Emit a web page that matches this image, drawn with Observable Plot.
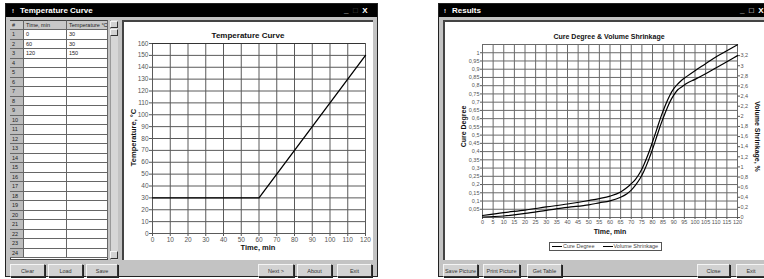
<!DOCTYPE html>
<html><head><meta charset="utf-8">
<script src="https://cdn.jsdelivr.net/npm/d3@7"></script>
<script src="https://cdn.jsdelivr.net/npm/@observablehq/plot@0.6"></script>
<style>
body{margin:0;width:764px;height:279px;background:#fff;position:relative;overflow:hidden;font-family:"Liberation Sans",Arial,sans-serif;}
.a{position:absolute;box-sizing:border-box;}
.win{background:#c3c3c3;border:1px solid #222;}
.tb{background:#000;color:#fff;font-weight:bold;font-size:8px;line-height:13px;white-space:nowrap;}
.btn{background:#d2d2d2;border:1px solid #333;border-top-color:#f4f4f4;border-left-color:#f4f4f4;box-shadow:1px 1px 0 #222;font-size:5.5px;line-height:12px;text-align:center;color:#333;}
.panel{background:#fff;border-left:2px solid #444;border-top:2px solid #444;}
.cell{font-size:5.5px;line-height:9px;padding-left:2px;color:#222;border-right:1px solid #666;border-bottom:1px solid #666;overflow:hidden;white-space:nowrap;}
.ttl{font-weight:bold;color:#111;white-space:nowrap;text-align:center;}
.rot{transform-origin:center center;}
</style></head>
<body>
<div id="root"></div>
<script>
// ---------- data ----------
const tempTime = [0, 60, 120];
const tempValue = [30, 30, 150];
const tempXTicks = [0, 10, 20, 30, 40, 50, 60, 70, 80, 90, 100, 110, 120];
const tempYTicks = [0, 10, 20, 30, 40, 50, 60, 70, 80, 90, 100, 110, 120, 130, 140, 150, 160];

const cureTime   = [0, 10, 20, 30, 40, 50, 55, 60, 65, 68, 70, 72, 74, 76, 78, 80, 82, 84, 86, 88, 90, 92, 94, 96, 100, 105, 110, 115, 120];
const cureDegree = [0.012, 0.030, 0.045, 0.064, 0.082, 0.103, 0.115, 0.130, 0.155, 0.182, 0.205, 0.232, 0.270, 0.322, 0.385, 0.458, 0.535, 0.612, 0.680, 0.738, 0.782, 0.812, 0.836, 0.855, 0.891, 0.933, 0.976, 1.012, 1.048];
const shrinkage  = [0.01, 0.03, 0.08, 0.14, 0.20, 0.25, 0.29, 0.33, 0.40, 0.47, 0.54, 0.64, 0.76, 0.92, 1.12, 1.35, 1.60, 1.85, 2.07, 2.27, 2.42, 2.53, 2.59, 2.65, 2.73, 2.84, 2.96, 3.08, 3.20];
const resXTicks = [0, 5, 10, 15, 20, 25, 30, 35, 40, 45, 50, 55, 60, 65, 70, 75, 80, 85, 90, 95, 100, 105, 110, 115, 120];
const cureTicks = [0.05, 0.1, 0.15, 0.2, 0.25, 0.3, 0.35, 0.4, 0.45, 0.5, 0.55, 0.6, 0.65, 0.7, 0.75, 0.8, 0.85, 0.9, 0.95, 1];
const cureGrid = [0, 0.05, 0.1, 0.15, 0.2, 0.25, 0.3, 0.35, 0.4, 0.45, 0.5, 0.55, 0.6, 0.65, 0.7, 0.75, 0.8, 0.85, 0.9, 0.95, 1, 1.05];
const shrinkTicks = [0, 0.2, 0.4, 0.6, 0.8, 1, 1.2, 1.4, 1.6, 1.8, 2, 2.2, 2.4, 2.6, 2.8, 3, 3.2];
const cureMax = 1.05, shrinkMax = 3.42;

const root = document.getElementById("root");
function el(cls, x, y, w, h, html, extra) {
  const d = document.createElement("div");
  d.className = "a " + cls;
  Object.assign(d.style, {left: x + "px", top: y + "px", width: w + "px", height: h + "px"}, extra || {});
  if (html != null) d.innerHTML = html;
  root.appendChild(d);
  return d;
}
const comma = v => String(+(+v).toFixed(2)).replace(".", ",");

// ---------- left window ----------
el("win", 5, 3, 373, 274);
el("tb", 6, 4, 371, 13, "<span style='font-size:6px;margin:0 6px 0 6px'>!</span>Temperature Curve");
el("", 344, 4, 33, 13, "_&nbsp;&nbsp;<span style='color:#555'>□</span>&nbsp;&nbsp;X", {color:"#fff", fontSize:"8px", fontWeight:"bold", lineHeight:"13px"});
// table
el("", 10, 20, 98, 240, null, {background:"#fff", border:"1px solid #444"});
const cols = [[10, 14], [24, 43], [67, 41]];
const heads = ["#", "Time, min", "Temperature °C"];
heads.forEach((h, j) => el("cell", cols[j][0], 20, cols[j][1], 10, h, {background:"#c8c8c8", borderTop:"1px solid #444"}));
for (let i = 0; i < 24; i++) {
  const y = 30 + i * 9.5;
  el("cell", cols[0][0], y, cols[0][1], 9.5, String(i + 1), {background:"#bdbdbd", lineHeight:"9px"});
  el("cell", cols[1][0], y, cols[1][1], 9.5, i < tempTime.length ? String(tempTime[i]) : "");
  el("cell", cols[2][0], y, cols[2][1], 9.5, i < tempValue.length ? String(tempValue[i]) : "");
}
// scrollbar
el("", 110, 20, 8, 240, null, {background:"#d6d6d6", borderLeft:"1px solid #999"});
el("btn", 110, 21, 8, 7, "", {boxShadow:"none"});
el("btn", 110, 29, 8, 7, "", {boxShadow:"none"});
el("btn", 110, 251, 8, 8, "", {boxShadow:"none"});
// chart panel
el("panel", 122, 20, 251, 240);
// buttons
[["Clear", 10, 35], ["Load", 48, 35], ["Save", 86, 32], ["Next >", 258, 36], ["About", 297, 35], ["Exit", 337, 35]]
  .forEach(([t, x, w]) => el("btn", x, 264, w, 13, t));

// ---------- right window ----------
el("win", 438, 3, 340, 274);
el("tb", 439, 4, 340, 13, "<span style='font-size:6px;margin:0 6px 0 5px'>!</span>Results");
el("", 740, 4, 30, 13, "_&nbsp;&nbsp;□&nbsp;&nbsp;X", {color:"#fff", fontSize:"8px", fontWeight:"bold", lineHeight:"13px"});
el("panel", 443, 20, 330, 240);
[["Save Picture", 443, 35], ["Print Picture", 483, 37], ["Get Table", 527, 35], ["Close", 697, 33], ["Exit", 736, 30]]
  .forEach(([t, x, w]) => el("btn", x, 264, w, 13, t));

// ---------- left chart ----------
const font = "'Liberation Sans', Arial, sans-serif";
const tempData = tempTime.map((t, i) => ({t, v: tempValue[i]}));
const leftPlot = Plot.plot({
  width: 251, height: 240,
  marginLeft: 30, marginRight: 8, marginTop: 23, marginBottom: 27,
  style: {fontSize: "6.5px", fontFamily: font, background: "transparent", color: "#555"},
  x: {domain: [0, 120]},
  y: {domain: [0, 160]},
  marks: [
    Plot.gridX(tempXTicks, {stroke: "#5a5a5a", strokeOpacity: 1}),
    Plot.gridY(tempYTicks, {stroke: "#5a5a5a", strokeOpacity: 1}),
    Plot.ruleY([160], {stroke: "#333"}),
    Plot.axisX(tempXTicks, {tickSize: 3, tickPadding: 1, label: null}),
    Plot.axisY(tempYTicks, {tickSize: 3, tickPadding: 1, label: null}),
    Plot.line(tempData, {x: "t", y: "v", stroke: "#000", strokeWidth: 1.3})
  ]
});
Object.assign(leftPlot.style, {position: "absolute", left: "122px", top: "20px"});
root.appendChild(leftPlot);
el("ttl", 188, 31, 120, 11, "Temperature Curve", {fontSize: "8px"});
el("ttl", 218, 243, 80, 9, "Time, min", {fontSize: "7.5px"});
el("ttl rot", 103, 133, 60, 9, "Temperature, °C", {fontSize: "7.5px", transform: "rotate(-90deg)"});

// ---------- right chart ----------
const k = cureMax / shrinkMax;
const cureData = cureTime.map((t, i) => ({t, v: cureDegree[i]}));
const shrinkData = cureTime.map((t, i) => ({t, v: shrinkage[i]}));
const rightPlot = Plot.plot({
  width: 321, height: 240,
  marginLeft: 39, marginRight: 27, marginTop: 24, marginBottom: 43,
  style: {fontSize: "5.5px", fontFamily: font, background: "transparent", color: "#555"},
  x: {domain: [0, 120]},
  y: {domain: [0, cureMax]},
  marks: [
    Plot.gridX(resXTicks, {stroke: "#6a6a6a", strokeOpacity: 1}),
    Plot.gridY(cureGrid, {stroke: "#6a6a6a", strokeOpacity: 1}),
    Plot.axisX(resXTicks, {tickSize: 2, tickPadding: 1, label: null}),
    Plot.axisY(cureTicks, {anchor: "left", tickSize: 2, tickPadding: 1, label: null, tickFormat: comma}),
    Plot.axisY(shrinkTicks.map(v => v * k), {anchor: "right", tickSize: 2, tickPadding: 1, label: null, tickFormat: d => comma(d / k)}),
    Plot.line(cureData, {x: "t", y: "v", stroke: "#000", strokeWidth: 1.2, curve: "monotone-x"}),
    Plot.line(shrinkData, {x: "t", y: d => d.v * k, stroke: "#000", strokeWidth: 1.2, curve: "monotone-x"})
  ]
});
Object.assign(rightPlot.style, {position: "absolute", left: "443px", top: "20px"});
root.appendChild(rightPlot);
el("ttl", 549, 33, 120, 10, "Cure Degree &amp; Volume Shrinkage", {fontSize: "7px"});
el("ttl", 580, 228, 60, 9, "Time, min", {fontSize: "7px"});
el("ttl rot", 434, 122, 60, 9, "Cure Degree", {fontSize: "7px", transform: "rotate(-90deg)"});
el("ttl rot", 716, 132, 80, 9, "Volume Shrinkage, %", {fontSize: "7px", transform: "rotate(90deg)"});
// legend
const lg = el("", 549, 242, 113, 9, null, {border: "1px solid #555", background: "#fff", fontSize: "5.5px", lineHeight: "7px", color: "#444", whiteSpace: "nowrap"});
lg.innerHTML = ["Cure Degree", "Volume Shrinkage"].map((n, i) =>
  `<span style="display:inline-block;width:10px;height:0;border-top:1.2px solid #000;vertical-align:middle;margin:0 1px 0 ${i ? 8 : 2}px"></span>${n}`).join("");
</script>
</body></html>
